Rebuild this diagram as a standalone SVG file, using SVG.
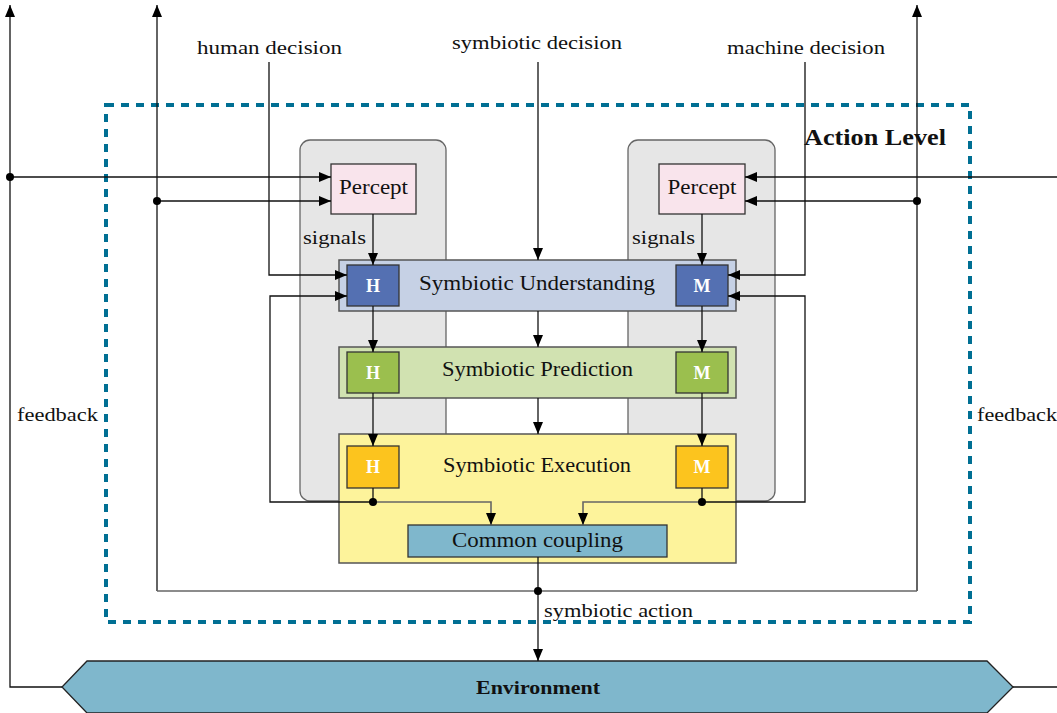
<svg xmlns="http://www.w3.org/2000/svg" width="1057" height="713" viewBox="0 0 1057 713">
<style>
text{font-family:"Liberation Serif","Times New Roman",serif;fill:#111}
.lbl{font-size:19px}
.big{font-size:20px}
.hm{font-size:18px;font-weight:bold;fill:#fff;text-anchor:middle}
.c{text-anchor:middle}
.ln{fill:none;stroke:#111;stroke-width:1.3}
.gl{fill:none;stroke:#666;stroke-width:1.6}
.panel{fill:#e6e6e6;stroke:#666;stroke-width:1.3}
.lvl{stroke:#555;stroke-width:1.5}
.sub{stroke:#333;stroke-width:1.3}
</style>
<defs>
<marker id="ar" markerUnits="userSpaceOnUse" markerWidth="13" markerHeight="11" refX="12" refY="5" orient="auto">
<path d="M0,0 L12,5 L0,10 z" fill="#000"/>
</marker>
</defs>

<g id="action-level">
<rect x="106" y="105" width="864" height="517" fill="none" stroke="#006f93" stroke-width="4" stroke-dasharray="8,7"/>
<text x="875" y="145" font-size="23" font-weight="bold" class="c" textLength="142" lengthAdjust="spacingAndGlyphs">Action Level</text>
</g>

<g id="panel-human"><rect class="panel" x="300" y="140" width="146" height="361" rx="10"/></g>
<g id="panel-machine"><rect class="panel" x="628" y="140" width="147" height="361" rx="10"/></g>

<g id="percept-h">
<rect x="331" y="164" width="85" height="50" fill="#f9e4ec" class="sub"/>
<text x="373.5" y="194" class="big c" textLength="69" lengthAdjust="spacingAndGlyphs">Percept</text>
</g>
<g id="percept-m">
<rect x="659" y="164" width="86" height="50" fill="#f9e4ec" class="sub"/>
<text x="702" y="194" class="big c" textLength="69" lengthAdjust="spacingAndGlyphs">Percept</text>
</g>

<g id="understanding">
<rect x="339" y="260" width="397" height="51" fill="#c6d1e5" class="lvl"/>
<text x="537" y="290" class="big c" textLength="236" lengthAdjust="spacingAndGlyphs">Symbiotic Understanding</text>
<rect x="347" y="265" width="52" height="41" fill="#5470b2" class="sub"/>
<text x="373" y="292" class="hm">H</text>
<rect x="676" y="265" width="52" height="41" fill="#5470b2" class="sub"/>
<text x="702" y="292" class="hm">M</text>
</g>

<g id="prediction">
<rect x="339" y="347" width="397" height="51" fill="#d1e2b1" class="lvl"/>
<text x="537.5" y="376" class="big c" textLength="191" lengthAdjust="spacingAndGlyphs">Symbiotic Prediction</text>
<rect x="347" y="352" width="52" height="41" fill="#9bbf4e" class="sub"/>
<text x="373" y="379" class="hm">H</text>
<rect x="676" y="352" width="52" height="41" fill="#9bbf4e" class="sub"/>
<text x="702" y="379" class="hm">M</text>
</g>

<g id="execution">
<rect x="339" y="434" width="397" height="129" fill="#fdf39b" class="lvl"/>
<text x="537" y="472" class="big c" textLength="188" lengthAdjust="spacingAndGlyphs">Symbiotic Execution</text>
<rect x="347" y="446" width="52" height="42" fill="#fcc41e" class="sub"/>
<text x="373" y="473" class="hm">H</text>
<rect x="676" y="446" width="52" height="42" fill="#fcc41e" class="sub"/>
<text x="702" y="473" class="hm">M</text>
</g>

<g id="common-coupling">
<rect x="408" y="525" width="259" height="32" fill="#7fb7cc" class="sub"/>
<text x="537.5" y="547" class="big c" textLength="171" lengthAdjust="spacingAndGlyphs">Common coupling</text>
</g>

<g id="environment">
<polygon points="87,661 987,661 1013,687 987,713 87,713 62,687" fill="#7fb7cc" stroke="#222" stroke-width="1.3"/>
<text x="538" y="694" font-size="19" font-weight="bold" class="c" textLength="124" lengthAdjust="spacingAndGlyphs">Environment</text>
</g>

<g id="connectors">
<path class="ln" d="M62,687 H10 V5" marker-end="url(#ar)"/>
<path class="ln" d="M10,177 H331" marker-end="url(#ar)"/>
<path class="ln" d="M1013,687 H1057"/>
<path class="ln" d="M1057,177 H745" marker-end="url(#ar)"/>
<path class="ln" d="M157,591 V5" marker-end="url(#ar)"/>
<path class="ln" d="M917,591 V5" marker-end="url(#ar)"/>
<path class="gl" d="M157,591 H917"/>
<path class="ln" d="M157,201 H331" marker-end="url(#ar)"/>
<path class="ln" d="M917,201 H745" marker-end="url(#ar)"/>
<path class="ln" d="M269,62 V275 H347" marker-end="url(#ar)"/>
<path class="ln" d="M805,62 V275 H728" marker-end="url(#ar)"/>
<path class="ln" d="M538,62 V260" marker-end="url(#ar)"/>
<path class="ln" d="M538,311 V347" marker-end="url(#ar)"/>
<path class="ln" d="M538,398 V434" marker-end="url(#ar)"/>
<path class="ln" d="M373,214 V265" marker-end="url(#ar)"/>
<path class="ln" d="M373,306 V352" marker-end="url(#ar)"/>
<path class="ln" d="M373,393 V446" marker-end="url(#ar)"/>
<path class="ln" d="M373,488 V502"/>
<path class="ln" d="M702,214 V265" marker-end="url(#ar)"/>
<path class="ln" d="M702,306 V352" marker-end="url(#ar)"/>
<path class="ln" d="M702,393 V446" marker-end="url(#ar)"/>
<path class="ln" d="M702,488 V502"/>
<path class="ln" d="M373,502 H270 V296 H347" marker-end="url(#ar)"/>
<path class="gl" d="M373,502 H491 V525" marker-end="url(#ar)"/>
<path class="ln" d="M702,502 H805 V296 H728" marker-end="url(#ar)"/>
<path class="gl" d="M702,502 H583 V525" marker-end="url(#ar)"/>
<path class="ln" d="M538,557 V661" marker-end="url(#ar)"/>
<g fill="#000">
<circle cx="10" cy="177" r="4"/>
<circle cx="157" cy="201" r="4"/>
<circle cx="917" cy="201" r="4"/>
<circle cx="373" cy="502" r="4"/>
<circle cx="702" cy="502" r="4"/>
<circle cx="538" cy="591" r="4"/>
</g>
</g>

<g id="labels">
<text x="269.5" y="54" class="lbl c" textLength="145" lengthAdjust="spacingAndGlyphs">human decision</text>
<text x="537" y="49" class="lbl c" textLength="170" lengthAdjust="spacingAndGlyphs">symbiotic decision</text>
<text x="806" y="54" class="lbl c" textLength="158" lengthAdjust="spacingAndGlyphs">machine decision</text>
<text x="303" y="244" class="lbl" textLength="63" lengthAdjust="spacingAndGlyphs">signals</text>
<text x="632" y="244" class="lbl" textLength="63" lengthAdjust="spacingAndGlyphs">signals</text>
<text x="17" y="421" class="lbl" textLength="81" lengthAdjust="spacingAndGlyphs">feedback</text>
<text x="977" y="421" class="lbl" textLength="80" lengthAdjust="spacingAndGlyphs">feedback</text>
<text x="544" y="617" class="lbl" textLength="149" lengthAdjust="spacingAndGlyphs">symbiotic action</text>
</g>
</svg>
